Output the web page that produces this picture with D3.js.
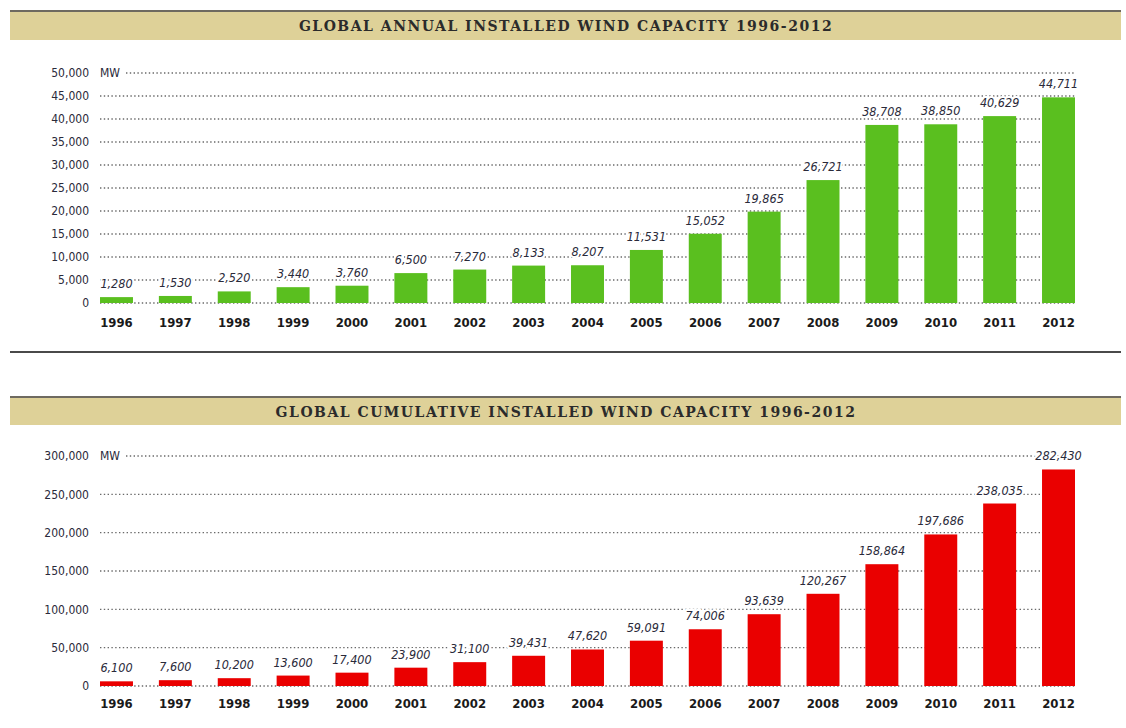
<!DOCTYPE html>
<html>
<head>
<meta charset="utf-8">
<script src="https://cdn.jsdelivr.net/npm/d3@7"></script>
<style>
  html, body { margin: 0; padding: 0; background: #fff; }
  svg { display: block; }
  .num { font-family: "Liberation Sans Narrow", "DejaVu Sans Condensed", "Roboto", sans-serif; font-stretch: condensed; }
  .title { font-family: "DejaVu Serif", "Liberation Serif", serif; font-weight: bold; }
</style>
</head>
<body>
<div id="chart"></div>
<script>
// Global wind capacity, two stacked bar panels

const years = ["1996","1997","1998","1999","2000","2001","2002","2003","2004","2005","2006","2007","2008","2009","2010","2011","2012"];
const annualMW = [1280, 1530, 2520, 3440, 3760, 6500, 7270, 8133, 8207, 11531, 15052, 19865, 26721, 38708, 38850, 40629, 44711];
const cumulativeMW = [6100, 7600, 10200, 13600, 17400, 23900, 31100, 39431, 47620, 59091, 74006, 93639, 120267, 158864, 197686, 238035, 282430];
const annualTicks = [0, 5000, 10000, 15000, 20000, 25000, 30000, 35000, 40000, 45000, 50000];
const cumulativeTicks = [0, 50000, 100000, 150000, 200000, 250000, 300000];
const titles = ["GLOBAL ANNUAL INSTALLED WIND CAPACITY 1996-2012", "GLOBAL CUMULATIVE INSTALLED WIND CAPACITY 1996-2012"];

const W = 1126, H = 728;
const fmt = d3.format(",");

const svg = d3.select("#chart").append("svg")
  .attr("width", W).attr("height", H)
  .attr("viewBox", `0 0 ${W} ${H}`);

const x = d3.scaleBand()
  .domain(years)
  .range([100, 1075])
  .paddingInner(0.44)
  .paddingOuter(0);

function drawPanel(opt) {
  const g = svg.append("g");

  // header band
  g.append("rect")
    .attr("x", 10).attr("y", opt.bandTop)
    .attr("width", 1111).attr("height", opt.bandH)
    .attr("fill", "#ded198");
  g.append("line")
    .attr("x1", 10).attr("x2", 1121)
    .attr("y1", opt.bandTop + 1).attr("y2", opt.bandTop + 1)
    .attr("stroke", "#6e6a60").attr("stroke-width", 2);
  g.append("text")
    .attr("class", "title")
    .attr("x", 566).attr("y", opt.bandTop + opt.bandH / 2 + 2)
    .attr("text-anchor", "middle")
    .attr("dominant-baseline", "middle")
    .attr("font-size", 14)
    .attr("letter-spacing", 1.5)
    .attr("fill", "#2b2b2b")
    .text(opt.title);

  const y = d3.scaleLinear().domain(opt.domain).range(opt.yRange);

  // dotted gridlines
  g.append("g").selectAll("line")
    .data(opt.ticks)
    .join("line")
    .attr("x1", (d, i) => i === opt.ticks.length - 1 ? 126 : 100)
    .attr("x2", 1076)
    .attr("y1", (d) => y(d)).attr("y2", (d) => y(d))
    .attr("stroke", "#6a6a6a")
    .attr("stroke-width", 1.3)
    .attr("stroke-dasharray", "1.4,2.4");

  // y axis labels (no domain line)
  const axis = g.append("g")
    .attr("transform", "translate(89,0)")
    .call(d3.axisLeft(y).tickValues(opt.ticks).tickFormat(fmt).tickSize(0).tickPadding(0));
  axis.select(".domain").remove();
  axis.selectAll("text")
    .attr("class", "num")
    .attr("font-size", 12)
    .attr("fill", "#2a2a3a");

  g.append("text")
    .attr("class", "num")
    .attr("x", 100).attr("y", y(opt.ticks[opt.ticks.length - 1]))
    .attr("dy", "0.32em")
    .attr("font-size", 12)
    .attr("fill", "#2a2a3a")
    .text("MW");

  // bars
  g.append("g").selectAll("rect")
    .data(opt.values)
    .join("rect")
    .attr("x", (d, i) => x(years[i]))
    .attr("width", x.bandwidth())
    .attr("y", (d) => y(d))
    .attr("height", (d) => y(0) - y(d))
    .attr("fill", opt.color);

  // value labels (white halo hides gridline behind)
  g.append("g").selectAll("text")
    .data(opt.values)
    .join("text")
    .attr("class", "num")
    .attr("x", (d, i) => x(years[i]) + x.bandwidth() / 2)
    .attr("y", (d) => y(d) - 9)
    .attr("text-anchor", "middle")
    .attr("font-size", 12.5)
    .attr("font-style", "italic")
    .attr("fill", "#2a2a3a")
    .attr("stroke", "#fff")
    .attr("stroke-width", 4)
    .attr("paint-order", "stroke")
    .text(fmt);

  // year labels
  const xa = g.append("g")
    .attr("transform", `translate(0,${opt.yearY})`)
    .call(d3.axisBottom(x).tickSize(0).tickPadding(0));
  xa.select(".domain").remove();
  xa.selectAll("text")
    .attr("class", "num")
    .attr("font-size", 13)
    .attr("font-weight", "bold")
    .attr("fill", "#1a1a1a");
}

drawPanel({
  title: titles[0], bandTop: 10, bandH: 30,
  values: annualMW, ticks: annualTicks, domain: [0, 50000], yRange: [303, 73],
  color: "#5abf1f", yearY: 318
});

// separator
svg.append("line")
  .attr("x1", 10).attr("x2", 1121)
  .attr("y1", 352).attr("y2", 352)
  .attr("stroke", "#4a4a4a").attr("stroke-width", 2);

drawPanel({
  title: titles[1], bandTop: 396, bandH: 29,
  values: cumulativeMW, ticks: cumulativeTicks, domain: [0, 300000], yRange: [686, 456],
  color: "#ea0000", yearY: 699
});
</script>
</body>
</html>
